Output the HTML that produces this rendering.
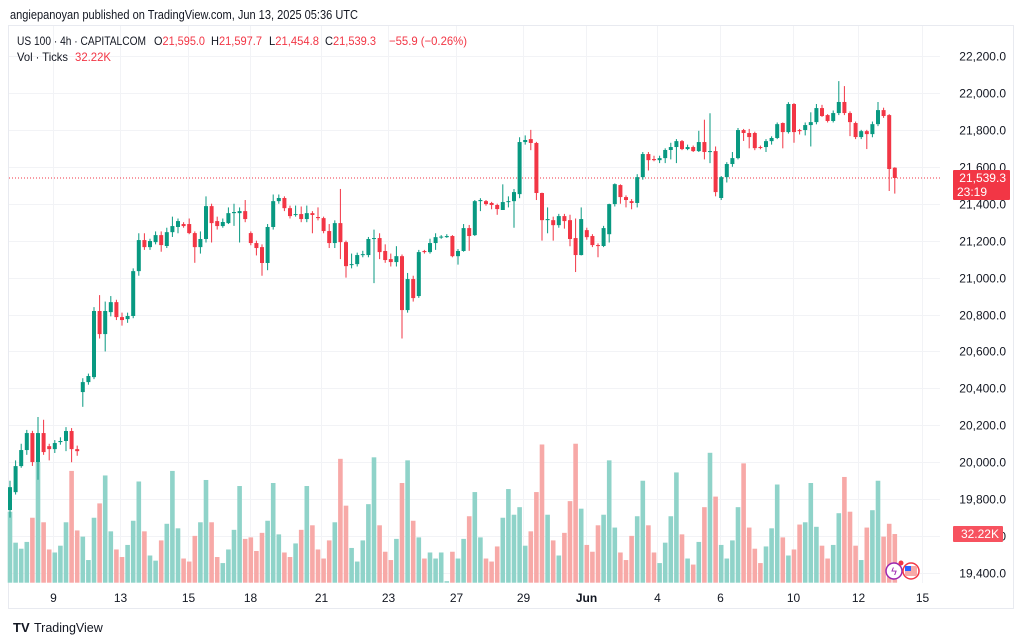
<!DOCTYPE html>
<html><head><meta charset="utf-8"><style>
html,body{margin:0;padding:0;background:#fff;width:1024px;height:642px;overflow:hidden}
svg{display:block;font-family:"Liberation Sans",sans-serif}
</style></head><body>
<svg id="chart" width="1024" height="642" viewBox="0 0 1024 642" xmlns="http://www.w3.org/2000/svg">
<rect x="0" y="0" width="1024" height="642" fill="#fff"/>
<text x="10" y="19" font-size="12.5" fill="#131722" textLength="348" lengthAdjust="spacingAndGlyphs">angiepanoyan published on TradingView.com, Jun 13, 2025 05:36 UTC</text>
<rect x="8.5" y="25.5" width="1005" height="583" fill="none" stroke="#e8eaf0"/>
<g id="grid"></g>
<g id="vol"></g>
<g id="candles"></g>
<g id="axis"></g>
<g id="xaxis"></g>
<g font-size="12">
<text x="17" y="45" fill="#131722" textLength="129" lengthAdjust="spacingAndGlyphs">US 100 · 4h · CAPITALCOM</text>
<text x="154" y="45" fill="#131722" textLength="51" lengthAdjust="spacingAndGlyphs">O<tspan fill="#f23645">21,595.0</tspan></text>
<text x="211" y="45" fill="#131722" textLength="51" lengthAdjust="spacingAndGlyphs">H<tspan fill="#f23645">21,597.7</tspan></text>
<text x="269" y="45" fill="#131722" textLength="50" lengthAdjust="spacingAndGlyphs">L<tspan fill="#f23645">21,454.8</tspan></text>
<text x="325" y="45" fill="#131722" textLength="51" lengthAdjust="spacingAndGlyphs">C<tspan fill="#f23645">21,539.3</tspan></text>
<text x="389" y="45" fill="#f23645" textLength="78" lengthAdjust="spacingAndGlyphs">−55.9 (−0.26%)</text>
<text x="17" y="61" fill="#131722" textLength="51" lengthAdjust="spacingAndGlyphs">Vol · Ticks</text>
<text x="75" y="61" fill="#f23645" textLength="36" lengthAdjust="spacingAndGlyphs">32.22K</text>
</g>
<g>
<circle cx="894" cy="571" r="8" fill="#fff" stroke="#9c27b0" stroke-width="1.5"/>
<text x="894" y="575" font-size="11" fill="#9c27b0" text-anchor="middle">ϟ</text>
<circle cx="911" cy="571" r="8" fill="#fff" stroke="#f23645" stroke-width="1.5"/>
<rect x="905" y="566" width="12" height="10" fill="#f7a9a7"/><rect x="905" y="566" width="6" height="5" fill="#2962ff"/>
<circle cx="901" cy="563" r="2.5" fill="#f23645"/>
</g>
<g>
<text x="13" y="632" font-size="13" font-weight="bold" fill="#131722">TV</text>
<text x="34" y="632" font-size="12.5" fill="#131722">TradingView</text>
</g>
</svg>
<script>
const opens=[19741,19838,19979,20066,20158,20001,20158,20087,20071,20109,20115,20169,20071,20380,20434,20461,20819,20694,20813,20867,20786,20775,20792,21035,21203,21165,21192,21230,21171,21246,21274,21290,21290,21241,21165,21209,21387,21306,21279,21295,21349,21349,21360,21241,21187,21165,21079,21274,21414,21431,21376,21339,21344,21317,21349,21328,21322,21252,21187,21295,21192,21068,21073,21122,21122,21209,21214,21144,21100,21084,21116,20824,20992,20900,21144,21138,21187,21217,21219,21225,21116,21144,21268,21230,21414,21414,21404,21393,21366,21409,21414,21452,21734,21750,21729,21458,21311,21311,21284,21333,21311,21214,21122,21257,21225,21176,21171,21235,21398,21501,21436,21414,21404,21544,21669,21642,21636,21647,21691,21707,21739,21696,21707,21685,21734,21680,21685,21431,21544,21615,21647,21799,21783,21783,21707,21707,21739,21756,21837,21788,21940,21799,21799,21826,21842,21918,21880,21848,21891,21951,21891,21837,21761,21793,21777,21831,21907,21880,21595];
const closes=[19865,19979,20066,20158,20001,20158,20055,20071,20104,20115,20169,20071,20060,20434,20467,20819,20694,20819,20867,20786,20770,20792,21035,21203,21165,21198,21230,21176,21246,21279,21306,21279,21241,21165,21209,21387,21295,21279,21301,21349,21355,21360,21317,21187,21160,21079,21274,21414,21431,21376,21333,21344,21317,21349,21339,21322,21252,21187,21295,21192,21062,21073,21122,21127,21209,21214,21138,21095,21084,21116,20824,20992,20889,21138,21138,21187,21219,21222,21225,21116,21144,21268,21225,21414,21420,21398,21393,21371,21409,21414,21463,21734,21745,21729,21458,21311,21317,21284,21333,21306,21209,21122,21317,21219,21176,21171,21268,21398,21506,21436,21420,21404,21544,21669,21636,21636,21647,21691,21707,21739,21696,21707,21685,21734,21680,21685,21463,21544,21615,21647,21799,21783,21761,21701,21704,21739,21756,21831,21788,21940,21788,21793,21826,21842,21918,21875,21848,21891,21951,21891,21842,21761,21793,21777,21831,21907,21875,21588,21539.3];
const highs=[19900,20010,20100,20175,20170,20245,20230,20100,20120,20135,20190,20185,20090,20455,20480,20840,20905,20870,20900,20880,20810,20810,21050,21240,21240,21210,21250,21250,21270,21330,21320,21300,21320,21250,21250,21440,21400,21330,21320,21380,21400,21380,21420,21250,21200,21180,21290,21450,21450,21440,21390,21390,21385,21390,21360,21380,21330,21290,21310,21480,21200,21130,21135,21145,21220,21260,21240,21180,21130,21170,21125,21025,21010,21150,21150,21210,21240,21230,21235,21230,21155,21290,21285,21420,21430,21420,21410,21400,21505,21440,21480,21760,21770,21800,21735,21460,21380,21330,21345,21345,21340,21320,21380,21270,21235,21185,21280,21400,21510,21505,21445,21425,21560,21680,21680,21660,21660,21700,21730,21750,21745,21720,21715,21795,21855,21890,21710,21550,21625,21680,21810,21805,21805,21790,21715,21750,21765,21840,21840,21950,21945,21805,21840,21895,21940,21935,21885,21905,22064,22037,21900,21845,21800,21800,21845,21951,21920,21885,21597.7];
const lows=[19700,19825,19970,20040,19980,19905,20040,20010,20050,20095,20060,20000,20035,20300,20420,20450,20670,20600,20790,20770,20740,20755,20780,21010,21150,21150,21180,21140,21160,21220,21240,21270,21235,21080,21130,21190,21190,21260,21270,21290,21280,21190,21300,21175,21120,21010,21040,21260,21400,21360,21320,21330,21300,21300,21240,21310,21240,21160,21160,21100,21000,21050,21060,21110,21110,20970,21100,21080,21060,21060,20670,20810,20870,20890,21130,21130,21150,21210,21215,21110,21070,21140,21145,21225,21360,21390,21370,21340,21370,21380,21270,21430,21720,21690,21420,21200,21240,21200,21270,21265,21170,21030,21120,21205,21165,21110,21165,21190,21385,21400,21380,21370,21380,21530,21580,21630,21620,21620,21640,21620,21690,21690,21680,21680,21640,21620,21440,21420,21515,21600,21640,21740,21700,21690,21695,21680,21720,21750,21700,21780,21730,21775,21770,21710,21830,21870,21840,21840,21880,21880,21766,21750,21750,21696,21760,21820,21865,21469,21454.8];
const volumes=[47,26.5,22.5,27,43,80,40,22,20,24.5,40,74,34.6,30.5,15,43,52.5,71,34,22,17,25,41,67,34,18,14.6,28,39,74,36,16,14,31,40,68,40,17,13,22,35,64,29,30,21,33,41,66,32,20,17,26,35,64,38,22,16,28,40,82,51,23,14,28,52,83,38,20.5,15,29,66,81,41,30,16,20,16,20,1,20.5,16,29,44,60,30,16,14,24,43,62,45,50,24.5,34,60,91.5,45,28,18,33,54,92,49,25,20.5,38,45,81,36.5,20,15,31,44,67.5,38,20,13,26.5,44,73,32,16,12,27,50,86,57,25,16,28,50,79,36.5,22.5,13,24,36,65,30,18,22,38.5,40,66,37,24.5,16,25,46,70,47,24.5,15,36.5,48,67.5,30.5,39,32.22];
const priceTicks=[22200,22000,21800,21600,21400,21200,21000,20800,20600,20400,20200,20000,19800,19600,19400];
const dateLabels=["9","13","15","18","21","23","27","29","Jun","4","6","10","12","15"];
const dateIndex=[7.7,19.7,31.8,42.9,55.5,67.5,79.6,91.6,102.9,115.5,126.8,139.8,151.4,162.9];

const NS="http://www.w3.org/2000/svg";
const X0=10, STEP=5.6, PLOT_R=940;
function xAt(i){return X0+i*STEP;}
function yPrice(p){return 56+(22200-p)/200*36.93;}
function yVol(v){return 582.7-v/0.662;}
function mk(tag,attrs,parent){const e=document.createElementNS(NS,tag);for(const k in attrs)e.setAttribute(k,attrs[k]);parent.appendChild(e);return e;}
const grid=document.getElementById('grid'),vol=document.getElementById('vol'),cg=document.getElementById('candles'),ax=document.getElementById('axis'),xa=document.getElementById('xaxis');
const GREEN="#089981",RED="#f23645";

priceTicks.forEach(p=>{
  const y=Math.round(yPrice(p))+0.5;
  const l=mk('line',{x1:9,x2:PLOT_R,y1:y,y2:y,stroke:"#f2f3f6"},grid);
  
  
  const t=mk('text',{x:1006,y:y+4,'font-size':12,fill:"#131722",'text-anchor':'end'},ax);
  t.textContent=p.toLocaleString('en-US',{minimumFractionDigits:1});
  
  
});
dateLabels.forEach((d,k)=>{
  const x=Math.round(xAt(dateIndex[k]))+0.5;
  const l=mk('line',{x1:x,x2:x,y1:26,y2:583,stroke:"#f2f3f6"},grid);
  
  
  const t=mk('text',{x:x,y:602,'font-size':12,fill:"#131722",'text-anchor':'middle','font-weight':d==="Jun"?"bold":"normal"},xa);
  t.textContent=d;
  
  
});
volumes.forEach((v,i)=>{
  const up=closes[i]>=opens[i];
  const r=mk('rect',{x:xAt(i)-2.3,y:yVol(v),width:4.6,height:582.7-yVol(v),fill:up?"#8fd3c9":"#f7a9a7"},vol);
  
  
});
closes.forEach((c,i)=>{
  const o=opens[i],up=c>=o,col=up?GREEN:RED,x=xAt(i);
  const w=mk('line',{x1:x,x2:x,y1:yPrice(highs[i]),y2:yPrice(lows[i]),stroke:col,'stroke-width':1},cg);
  
  
  const top=yPrice(Math.max(o,c)),bot=yPrice(Math.min(o,c));
  const b=mk('rect',{x:x-2,y:top,width:4,height:Math.max(1,bot-top),fill:col},cg);
  
  
});
const last=closes[closes.length-1],ly=yPrice(last);
const pl=mk('line',{x1:9,x2:PLOT_R,y1:ly,y2:ly,stroke:RED,'stroke-dasharray':'1 2','stroke-width':1},grid);


const pb=mk('rect',{x:953,y:ly-8,width:57,height:30,fill:RED,rx:1},ax);


const pt=mk('text',{x:1006,y:ly+4,'font-size':12,fill:"#fff",'text-anchor':'end'},ax);
pt.textContent=last.toLocaleString('en-US',{minimumFractionDigits:1});


const ct=mk('text',{x:957,y:ly+18,'font-size':12,fill:"#fff"},ax);
ct.textContent="23:19";


const lv=volumes[volumes.length-1],vy=yVol(lv);
const vb=mk('rect',{x:953,y:vy-8,width:50,height:16,fill:"#f7525f",rx:1},ax);


const vt=mk('text',{x:999,y:vy+4,'font-size':12,fill:"#fff",'text-anchor':'end'},ax);
vt.textContent=lv.toFixed(2)+"K";


</script>
</body></html>
